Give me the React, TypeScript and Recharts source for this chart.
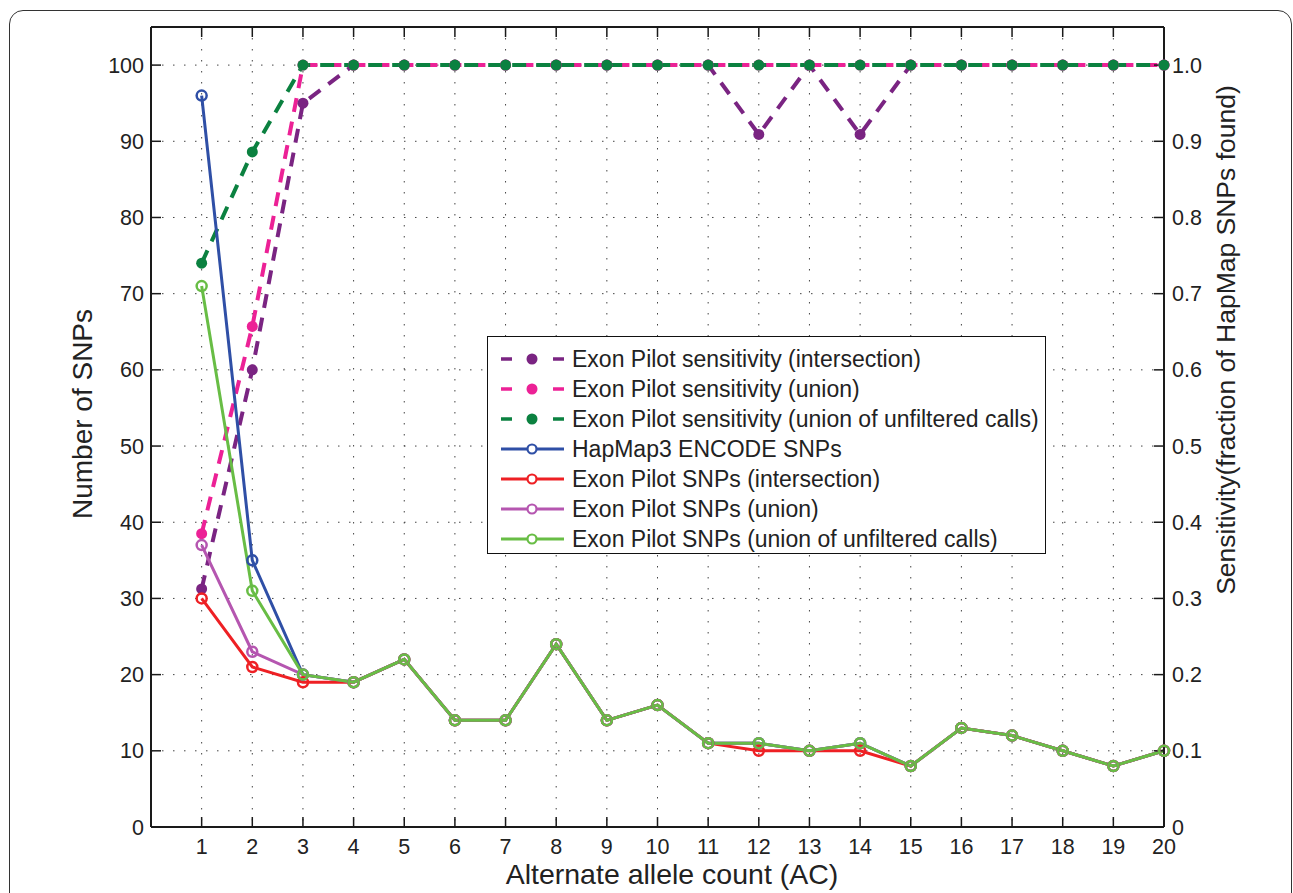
import React from 'react';
import { LineChart, Line, XAxis, YAxis, CartesianGrid, Legend } from 'recharts';

const acValues = [1, 2, 3, 4, 5, 6, 7, 8, 9, 10, 11, 12, 13, 14, 15, 16, 17, 18, 19, 20];
const sensIntersection = [0.3125, 0.6, 0.95, 1, 1, 1, 1, 1, 1, 1, 1, 0.909, 1, 0.909, 1, 1, 1, 1, 1, 1];
const sensUnion = [0.385, 0.657, 1, 1, 1, 1, 1, 1, 1, 1, 1, 1, 1, 1, 1, 1, 1, 1, 1, 1];
const sensUnfiltered = [0.74, 0.886, 1, 1, 1, 1, 1, 1, 1, 1, 1, 1, 1, 1, 1, 1, 1, 1, 1, 1];
const hapmap = [96, 35, 20, 19, 22, 14, 14, 24, 14, 16, 11, 11, 10, 11, 8, 13, 12, 10, 8, 10];
const snpIntersection = [30, 21, 19, 19, 22, 14, 14, 24, 14, 16, 11, 10, 10, 10, 8, 13, 12, 10, 8, 10];
const snpUnion = [37, 23, 20, 19, 22, 14, 14, 24, 14, 16, 11, 11, 10, 11, 8, 13, 12, 10, 8, 10];
const snpUnfiltered = [71, 31, 20, 19, 22, 14, 14, 24, 14, 16, 11, 11, 10, 11, 8, 13, 12, 10, 8, 10];

const xTicks = [1, 2, 3, 4, 5, 6, 7, 8, 9, 10, 11, 12, 13, 14, 15, 16, 17, 18, 19, 20];
const leftTicks = [0, 10, 20, 30, 40, 50, 60, 70, 80, 90, 100];
const rightTicks = [0, 0.1, 0.2, 0.3, 0.4, 0.5, 0.6, 0.7, 0.8, 0.9, 1.0];

const xTitle = 'Alternate allele count (AC)';
const leftTitle = 'Number of SNPs';
const rightTitle = 'Sensitivity(fraction of HapMap SNPs found)';

type SeriesDef = { key: string; name: string; color: string; dashed: boolean; axis: string; values: number[] };

const series: SeriesDef[] = [
  { key: 'sInt', name: 'Exon Pilot sensitivity (intersection)', color: '#7a2482', dashed: true, axis: 'right', values: sensIntersection },
  { key: 'sUni', name: 'Exon Pilot sensitivity (union)', color: '#ec2196', dashed: true, axis: 'right', values: sensUnion },
  { key: 'sUnf', name: 'Exon Pilot sensitivity (union of unfiltered calls)', color: '#0b8140', dashed: true, axis: 'right', values: sensUnfiltered },
  { key: 'hap', name: 'HapMap3 ENCODE SNPs', color: '#2f4fa6', dashed: false, axis: 'left', values: hapmap },
  { key: 'nInt', name: 'Exon Pilot SNPs (intersection)', color: '#ee2024', dashed: false, axis: 'left', values: snpIntersection },
  { key: 'nUni', name: 'Exon Pilot SNPs (union)', color: '#b556b0', dashed: false, axis: 'left', values: snpUnion },
  { key: 'nUnf', name: 'Exon Pilot SNPs (union of unfiltered calls)', color: '#68bd45', dashed: false, axis: 'left', values: snpUnfiltered },
];

const data = acValues.map((ac, i) => {
  const row: Record<string, number> = { ac };
  series.forEach((s) => {
    row[s.key] = s.values[i];
  });
  return row;
});

const FONT = '"Liberation Sans", Arial, Helvetica, sans-serif';
const TEXT = '#222';

const LegendBox = () => (
  <div
    style={{
      width: 557,
      height: 216,
      border: '1.5px solid #111',
      background: '#fff',
      position: 'relative',
      fontFamily: FONT,
      fontSize: 23,
      color: TEXT,
    }}
  >
    {series.map((s, i) => (
      <div key={s.key} style={{ position: 'absolute', left: 0, top: 7 + i * 30, height: 30, width: '100%' }}>
        <svg width={82} height={30} style={{ position: 'absolute', left: 0, top: 0 }}>
          {s.dashed ? (
            <g>
              <line x1={13} x2={24} y1={15} y2={15} stroke={s.color} strokeWidth={3.5} />
              <line x1={44} x2={49} y1={15} y2={15} stroke={s.color} strokeWidth={3.5} />
              <circle cx={44} cy={15} r={5.5} fill={s.color} />
              <line x1={65} x2={76} y1={15} y2={15} stroke={s.color} strokeWidth={3.5} />
            </g>
          ) : (
            <g>
              <line x1={13} x2={76} y1={15} y2={15} stroke={s.color} strokeWidth={3} />
              <circle cx={44} cy={15} r={4.5} fill="#fff" stroke={s.color} strokeWidth={2.2} />
            </g>
          )}
        </svg>
        <div style={{ position: 'absolute', left: 84, top: 0, lineHeight: '30px', whiteSpace: 'nowrap' }}>{s.name}</div>
      </div>
    ))}
  </div>
);

const LeftTitle = (props: any) => {
  const vb = props.viewBox || { x: 0, y: 27, width: 151, height: 800 };
  const cx = vb.x + 82;
  const cy = 414;
  return (
    <text x={cx} y={cy} transform={`rotate(-90 ${cx} ${cy})`} textAnchor="middle" dominantBaseline="central" fontFamily={FONT} fontSize={28} fill={TEXT}>
      {leftTitle}
    </text>
  );
};

const RightTitle = (props: any) => {
  const vb = props.viewBox || { x: 1164, y: 27, width: 129, height: 800 };
  const cx = vb.x + 62;
  const cy = 340;
  return (
    <text x={cx} y={cy} transform={`rotate(-90 ${cx} ${cy})`} textAnchor="middle" dominantBaseline="central" fontFamily={FONT} fontSize={26.5} fill={TEXT}>
      {rightTitle}
    </text>
  );
};

const BottomTitle = () => (
  <text x={672} y={884} textAnchor="middle" fontFamily={FONT} fontSize={28.5} fill={TEXT}>
    {xTitle}
  </text>
);

export default function App() {
  const tickStyle = { fontFamily: FONT, fontSize: 21.5, fill: TEXT };
  const axisLine = { stroke: '#1a1a1a', strokeWidth: 2 };
  const tickLine = { stroke: '#1a1a1a', strokeWidth: 1.5 };
  return (
    <div style={{ position: 'relative', width: 1293, height: 893, overflow: 'hidden', background: '#fff' }}>
      <style>{`body{margin:0;}`}</style>
      <div
        style={{
          position: 'absolute',
          left: 9,
          top: 10,
          width: 1283,
          height: 920,
          border: '1.5px solid #333',
          borderRadius: 14,
          boxSizing: 'border-box',
        }}
      />
      <div style={{ position: 'absolute', left: 0, top: 0 }}>
        <LineChart width={1293} height={893} data={data} margin={{ top: 26, right: 0, bottom: 0, left: 0 }}>
          <CartesianGrid stroke="#444" strokeWidth={1} strokeDasharray="1.5 9.5" />
          <XAxis
            dataKey="ac"
            type="number"
            domain={[0, 20]}
            ticks={xTicks}
            interval={0}
            height={66}
            axisLine={axisLine}
            tickLine={tickLine}
            tickSize={-10}
            tickMargin={22}
            tick={tickStyle}
            label={<BottomTitle />}
          />
          <XAxis
            xAxisId="top"
            orientation="top"
            dataKey="ac"
            type="number"
            domain={[0, 20]}
            ticks={xTicks}
            interval={0}
            height={1}
            axisLine={axisLine}
            tickLine={tickLine}
            tickSize={-10}
            tickFormatter={() => ''}
          />
          <YAxis
            type="number"
            domain={[0, 105]}
            ticks={leftTicks}
            interval={0}
            width={151}
            axisLine={axisLine}
            tickLine={tickLine}
            tickSize={-10}
            tickMargin={17}
            tick={tickStyle}
            label={<LeftTitle />}
          />
          <YAxis
            yAxisId="right"
            orientation="right"
            type="number"
            domain={[0, 1.05]}
            ticks={rightTicks}
            interval={0}
            width={129}
            axisLine={axisLine}
            tickLine={tickLine}
            tickSize={-10}
            tickMargin={18}
            tick={tickStyle}
            tickFormatter={(v: number) => (v === 0 ? '0' : v.toFixed(1))}
            label={<RightTitle />}
          />
          <Legend
            layout="vertical"
            align="center"
            verticalAlign="middle"
            wrapperStyle={{ left: 487, top: 336, width: 560, height: 219 }}
            content={() => <LegendBox />}
          />
          {series.map((s) =>
            s.dashed ? (
              <Line
                key={s.key}
                dataKey={s.key}
                name={s.name}
                yAxisId="right"
                xAxisId={0}
                stroke={s.color}
                strokeWidth={4}
                strokeDasharray="14 10"
                type="linear"
                dot={{ r: 5.5, fill: s.color, stroke: s.color, strokeWidth: 0, strokeDasharray: '0' }}
                activeDot={false}
                isAnimationActive={false}
              />
            ) : (
              <Line
                key={s.key}
                dataKey={s.key}
                name={s.name}
                xAxisId={0}
                stroke={s.color}
                strokeWidth={3}
                type="linear"
                dot={{ r: 5, fill: 'none', stroke: s.color, strokeWidth: 2.5 }}
                activeDot={false}
                isAnimationActive={false}
              />
            )
          )}
        </LineChart>
      </div>
    </div>
  );
}
